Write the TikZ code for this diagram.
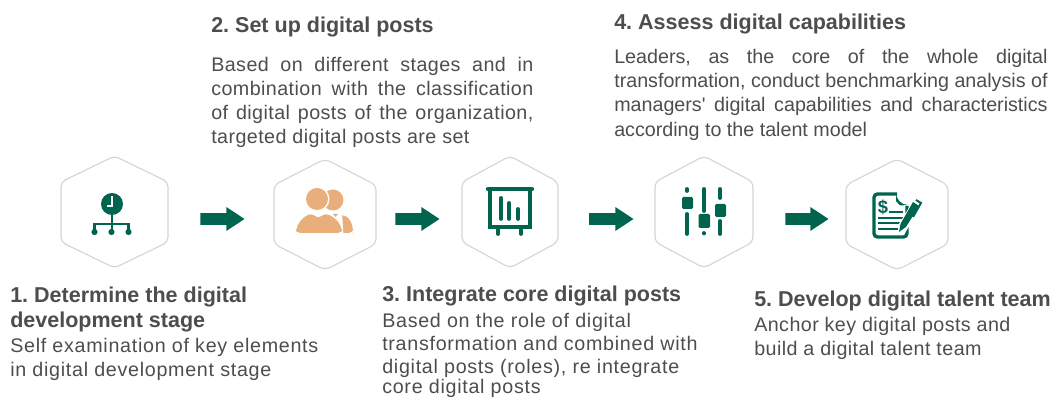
\documentclass[tikz,border=0pt]{standalone}
\usepackage{fontspec}
\setmainfont{Liberation Sans}
\newfontfamily\bodyfont[LetterSpace=3.6]{Liberation Sans}
\newfontfamily\midfont[LetterSpace=2.2]{Liberation Sans}
\usetikzlibrary{arrows.meta}
\definecolor{postgreen}{HTML}{00644F}
\definecolor{postorange}{HTML}{E9AE7C}
\definecolor{postgray}{HTML}{4D4D4D}
\definecolor{hexgray}{HTML}{D4D4D4}
\frenchspacing
\tikzset{
  hexcell/.style={inner sep=0pt},
  hexline/.style={draw=hexgray,line width=0.8pt,rounded corners=3.5pt},
  bigarrow/.style={draw=postgreen,line width=8.4pt,-{Triangle[length=13pt,width=16pt]}},
  headtext/.style={anchor=base west,inner sep=0pt,text=postgray,font=\fontsize{15.3}{17.4}\selectfont\bfseries,align=left},
  bodytext/.style={anchor=base west,inner sep=0pt,text=postgray,font=\bodyfont\fontsize{14}{17.3}\selectfont},
  bodymid/.style={bodytext,font=\midfont\fontsize{14}{17.3}\selectfont},
  bodyplain/.style={bodytext,font=\rmfamily\fontsize{14}{17.3}\selectfont},
  iconline/.style={draw=postgreen,line width=2.7pt,line cap=round},
  iconknob/.style={fill=postgreen,rounded corners=1pt},
}
\begin{document}
\begin{tikzpicture}[x=0.025cm,y=-0.025cm]
\useasboundingbox (0,0) rectangle (1055,398);

\node[hexcell,minimum width=2.68cm,minimum height=2.8cm] (hexa) at (114.5,212) {};
\node[hexcell,minimum width=2.55cm,minimum height=2.78cm] (hexb) at (325,214.5) {};
\node[hexcell,minimum width=2.4cm,minimum height=2.8cm] (hexc) at (510,212) {};
\node[hexcell,minimum width=2.45cm,minimum height=2.8cm] (hexd) at (704,212) {};
\node[hexcell,minimum width=2.55cm,minimum height=2.78cm] (hexe) at (897,214.5) {};

\draw[hexline] (114.5,156)--(168,182)--(168,242)--(114.5,268)--(61,242)--(61,182)--cycle;
\draw[hexline] (325,159)--(376,185)--(376,244)--(325,270)--(274,244)--(274,185)--cycle;
\draw[hexline] (510,156)--(558,182)--(558,242)--(510,268)--(462,242)--(462,182)--cycle;
\draw[hexline] (704,156)--(753,182)--(753,242)--(704,268)--(655,242)--(655,182)--cycle;
\draw[hexline] (897,159)--(948,185)--(948,244)--(897,270)--(846,244)--(846,185)--cycle;

\draw[bigarrow] ([shift={(32,7)}]hexa.east)--([shift={(-29,4.5)}]hexb.west);
\draw[bigarrow] ([shift={(19,4.5)}]hexb.east)--([shift={(-22,7)}]hexc.west);
\draw[bigarrow] ([shift={(31,7)}]hexc.east)--([shift={(-21,7)}]hexd.west);
\draw[bigarrow] ([shift={(32,7)}]hexd.east)--([shift={(-17,4.5)}]hexe.west);

\fill[postgreen] (112,204) circle (11);
\draw[white,line width=1.3pt] (112,196)--(112,206)--(107,206);
\draw[postgreen,line width=2pt] (112,214)--(112,232);
\draw[postgreen,line width=2pt] (94.5,232)--(94.5,224)--(128.5,224)--(128.5,232);
\fill[postgreen] (94.5,232) circle (3.1);
\fill[postgreen] (111.5,232) circle (3.1);
\fill[postgreen] (128.5,232) circle (3.1);

\fill[postorange] (333,200) circle (10.5);
\fill[postorange,rounded corners=3pt] (335,233)--(335,214)--(342,215) to[out=-20,in=100] (353,230)--(353,233)--cycle;
\fill[white] (317,199) circle (12.5);
\fill[white] (300,236)--(312,211)--(342,213)--(343.5,236)--cycle;
\fill[postorange] (317,199) circle (11);
\fill[postorange,rounded corners=3pt] (296,233)--(296,230) to[out=70,in=205] (312,213)--(318,219)--(325,213) to[out=-25,in=110] (342,230)--(342,233)--cycle;
\fill[postorange] (333,214)--(338,214)--(335.5,217)--cycle;

\draw[postgreen,line width=3pt,line cap=round] (488,189)--(532,189);
\draw[postgreen,line width=2.4pt] (490,189)--(490,227)--(530,227)--(530,189);
\draw[iconline] (498,228)--(498,234);
\draw[iconline] (521,228)--(521,234);
\draw[iconline] (501,198)--(501,219);
\draw[iconline] (509,203)--(509,219);
\draw[iconline] (518,209)--(518,219);

\draw[iconline] (687,189)--(687,191);
\fill[iconknob] (682,197) rectangle (693,209);
\draw[iconline] (687,214)--(687,234);
\draw[iconline] (704,189)--(704,211);
\fill[iconknob] (698.5,214) rectangle (710,228);
\draw[iconline] (704,233)--(704,233.5);
\draw[iconline] (720,189)--(720,198);
\fill[iconknob] (715,204) rectangle (726,217);
\draw[iconline] (720,221)--(720,234);

\draw[postgreen,line width=2.4pt,rounded corners=2.5pt] (897,194)--(874,194)--(874,237)--(907,237)--(907,206);
\fill[postgreen] (896,192.5) to[out=-90,in=180] (908,205)--(900,205.5)--(896,201)--cycle;
\node[inner sep=0pt,text=postgreen,font=\fontsize{13}{13}\selectfont\bfseries] (dollar) at (883,207) {\$};
\draw[postgreen,line width=1.6pt] (889,212)--(903,212);
\draw[postgreen,line width=1.6pt] (878,218)--(905,218);
\draw[postgreen,line width=1.6pt] (878,223)--(902,223);
\draw[postgreen,line width=1.6pt] (878,229)--(898,229);
\draw[white,line width=7pt] (901,230)--(917,204);
\fill[postgreen] (899,232)--(900.5,224)--(913,202)--(919,206)--(906,227)--cycle;
\draw[postgreen,line width=1.4pt] (916,200)--(921,203)--(913,217);

\node[headtext] (titlea) at (10,302.5) {1. Determine the digital};
\node[headtext] (titleaa) at (10,328) {development stage};
\node[bodytext] (bodya) at (10,353) {Self examination of key elements};
\node[bodytext] (bodyaa) at (10,376.5) {in digital development stage};

\node[headtext] (titleb) at (211,33) {2. Set up digital posts};
\node[bodymid] (bodyb) at (211,72) {\makebox[8.05cm][s]{Based on different stages and in}};
\node[bodymid] (bodybb) at (211,96) {\makebox[8.05cm][s]{combination with the classification}};
\node[bodymid] (bodybbb) at (211,120) {\makebox[8.05cm][s]{of digital posts of the organization,}};
\node[bodymid] (bodybbbb) at (211,143.5) {targeted digital posts are set};

\node[headtext] (titlec) at (382,302) {3. Integrate core digital posts};
\node[bodytext] (bodyc) at (382,328) {Based on the role of digital};
\node[bodytext] (bodycc) at (382,351) {transformation and combined with};
\node[bodytext] (bodyccc) at (382,374) {digital posts (roles), re integrate};
\node[bodytext] (bodycccc) at (382,394) {core digital posts};

\node[headtext] (titled) at (614,30) {4. Assess digital capabilities};
\node[bodyplain] (bodyd) at (614,64) {\makebox[10.83cm][s]{Leaders, as the core of the whole digital}};
\node[bodyplain] (bodydd) at (614,88) {\makebox[10.83cm][s]{transformation, conduct benchmarking analysis of}};
\node[bodyplain] (bodyddd) at (614,112) {\makebox[10.83cm][s]{managers\textquotesingle{} digital capabilities and characteristics}};
\node[bodyplain] (bodydddd) at (614,137) {according to the talent model};

\node[headtext] (titlee) at (754,307) {5. Develop digital talent team};
\node[bodymid] (bodye) at (754,332) {Anchor key digital posts and};
\node[bodymid] (bodyee) at (754,356) {build a digital talent team};
\end{tikzpicture}
\end{document}
